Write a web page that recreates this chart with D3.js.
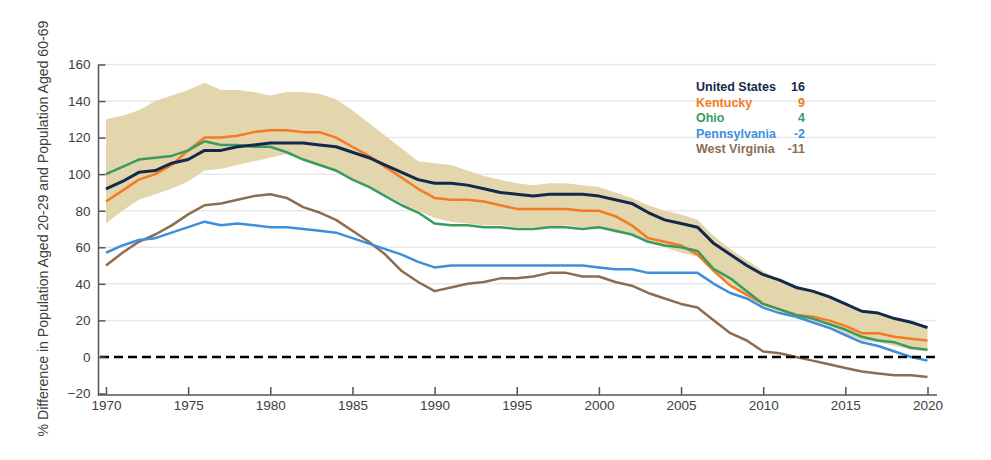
<!DOCTYPE html>
<html>
<head>
<meta charset="utf-8">
<script src="https://cdn.jsdelivr.net/npm/d3@7"></script>
<style>
  body { margin: 0; background: #fff; }
  text { font-family: "Liberation Sans", Arial, sans-serif; }
</style>
</head>
<body>
<div id="chart"></div>
<script>
// years 1970..2020
let years = d3.range(1970, 2021)

let usValues = [92,96,101,102,106,108,113,113,115,116,117,117,117,116,115,112,109,105,101,97,
  95,95,94,92,90,89,88,89,89,89,88,86,84,79,75,73,71,62,56,50,
  45,42,38,36,33,29,25,24,21,19,16]
let kentuckyValues = [85,91,97,100,105,113,120,120,121,123,124,124,123,123,120,115,110,104,98,92,
  87,86,86,85,83,81,81,81,81,80,80,77,72,65,63,61,56,47,39,34,
  29,26,23,22,20,17,13,13,11,10,9]
let ohioValues = [100,104,108,109,110,113,118,116,116,115,115,112,108,105,102,97,93,88,83,79,
  73,72,72,71,71,70,70,71,71,70,71,69,67,63,61,60,58,48,43,36,
  29,26,23,21,18,15,11,9,8,5,4]
let pennValues = [57,61,64,65,68,71,74,72,73,72,71,71,70,69,68,65,62,59,56,52,
  49,50,50,50,50,50,50,50,50,50,49,48,48,46,46,46,46,40,35,32,
  27,24,22,19,16,12,8,6,3,0,-2]
let wvValues = [50,57,63,67,72,78,83,84,86,88,89,87,82,79,75,69,63,56,47,41,
  36,38,40,41,43,43,44,46,46,44,44,41,39,35,32,29,27,20,13,9,
  3,2,0,-2,-4,-6,-8,-9,-10,-10,-11]

// shaded range across states
let bandHigh = [130,132,135,140,143,146,150,146,146,145,143,145,145,144,141,135,128,121,114,107,
  106,105,102,99,97,95,94,95,95,94,93,90,87,83,80,78,75,66,59,53,
  47,42,39,36,33,29,25,24,21,19,17]
let bandLow = [73,80,86,89,92,96,102,103,105,107,109,111,108,105,101,97,93,89,84,80,
  76,74,73,72,72,71,71,71,72,71,71,68,67,63,60,57,55,48,40,34,
  28,25,22,20,17,13,9,8,6,4,3]

let yTicks = [-20,0,20,40,60,80,100,120,140,160]
let xTicks = [1970,1975,1980,1985,1990,1995,2000,2005,2010,2015,2020]

let seriesNames = ['United States','Kentucky','Ohio','Pennsylvania','West Virginia']
let seriesColors = ['#13294b','#f47b20','#3a9b62','#3d8fdc','#8c6d51']
let seriesData = [usValues, kentuckyValues, ohioValues, pennValues, wvValues]
let lastValues = seriesData.map(function (d) { return d[d.length - 1] })

let width = 991
let height = 460

let svg = d3.select('#chart')
  .append('svg')
  .attr('width', width)
  .attr('height', height)

let x = d3.scaleLinear().domain([1970, 2020]).range([106, 927.5])
let y = d3.scaleLinear().domain([-20, 160]).range([393.5, 64.5])

// grid
svg.append('g')
  .selectAll('line')
  .data(yTicks.filter(function (d) { return d > 0 }))
  .enter()
  .append('line')
  .attr('x1', 99)
  .attr('x2', 936)
  .attr('y1', function (d) { return y(d) })
  .attr('y2', function (d) { return y(d) })
  .attr('stroke', '#e9e9e9')
  .attr('stroke-width', 1.5)

// band
let area = d3.area()
  .x(function (d, i) { return x(years[i]) })
  .y0(function (d, i) { return y(bandLow[i]) })
  .y1(function (d) { return y(d) })

svg.append('path')
  .datum(bandHigh)
  .attr('d', area)
  .attr('fill', '#e4d6ac')

// lines, drawn back to front
let line = d3.line()
  .x(function (d, i) { return x(years[i]) })
  .y(function (d) { return y(d) })

let drawOrder = [4, 3, 1, 2, 0]
svg.append('g')
  .selectAll('path')
  .data(drawOrder)
  .enter()
  .append('path')
  .attr('d', function (k) { return line(seriesData[k]) })
  .attr('fill', 'none')
  .attr('stroke', function (k) { return seriesColors[k] })
  .attr('stroke-width', function (k) { return k === 0 ? 3 : 2.5 })
  .attr('stroke-linejoin', 'round')

// zero line
svg.append('line')
  .attr('x1', 100)
  .attr('x2', 936)
  .attr('y1', y(0))
  .attr('y2', y(0))
  .attr('stroke', '#000')
  .attr('stroke-width', 2.5)
  .attr('stroke-dasharray', '9,5')

// axes
let axisY = 395
let yAxis = svg.append('g')
  .attr('transform', 'translate(98.5,0)')
  .call(d3.axisLeft(y).tickValues(yTicks).tickSize(-7).tickSizeOuter(0).tickPadding(8))
yAxis.select('.domain').remove()
yAxis.selectAll('line').attr('stroke', '#555').attr('stroke-width', 1.5)
yAxis.selectAll('text').attr('font-size', 13.5).attr('fill', '#404040')

let xAxis = svg.append('g')
  .attr('transform', 'translate(0,' + axisY + ')')
  .call(d3.axisBottom(x).tickValues(xTicks).tickFormat(d3.format('d')).tickSize(-8).tickSizeOuter(0).tickPadding(5))
xAxis.select('.domain').remove()
xAxis.selectAll('line').attr('stroke', '#555').attr('stroke-width', 1.5)
xAxis.selectAll('text').attr('font-size', 13.5).attr('fill', '#404040')

svg.append('line')
  .attr('x1', 98.5).attr('x2', 98.5)
  .attr('y1', y(160)).attr('y2', axisY + 0.75)
  .attr('stroke', '#555').attr('stroke-width', 1.5)
svg.append('line')
  .attr('x1', 98).attr('x2', 937)
  .attr('y1', axisY).attr('y2', axisY)
  .attr('stroke', '#555').attr('stroke-width', 1.5)

// y label
svg.append('text')
  .attr('transform', 'translate(48,228.5) rotate(-90)')
  .attr('text-anchor', 'middle')
  .attr('font-size', 14.1)
  .attr('fill', '#404040')
  .text('% Difference in Population Aged 20-29 and Population Aged 60-69')

// legend
let legend = svg.append('g')
legend.selectAll('.name')
  .data(seriesNames)
  .enter()
  .append('text')
  .attr('x', 696)
  .attr('y', function (d, i) { return 91 + i * 15.6 })
  .attr('font-size', 12.5)
  .attr('font-weight', 'bold')
  .attr('fill', function (d, i) { return seriesColors[i] })
  .text(function (d) { return d })
legend.selectAll('.val')
  .data(lastValues)
  .enter()
  .append('text')
  .attr('x', 805)
  .attr('y', function (d, i) { return 91 + i * 15.6 })
  .attr('text-anchor', 'end')
  .attr('font-size', 12.5)
  .attr('font-weight', 'bold')
  .attr('fill', function (d, i) { return seriesColors[i] })
  .text(function (d) { return d })
</script>
</body>
</html>
